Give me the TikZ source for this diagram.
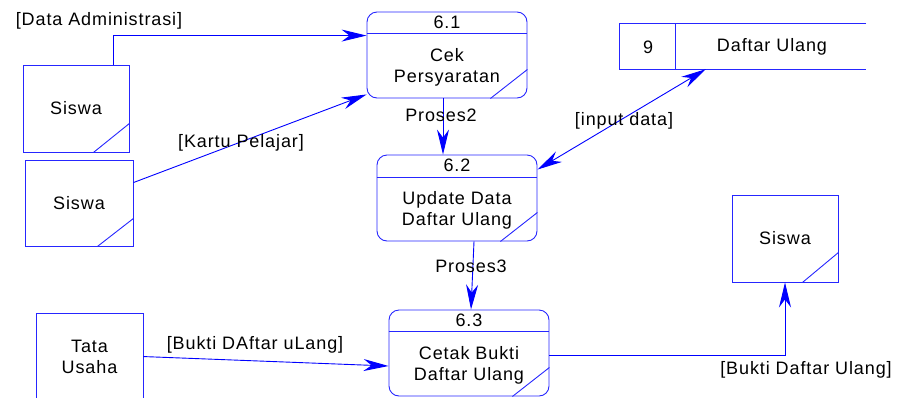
\documentclass[tikz,border=0pt]{standalone}
\usepackage{fontspec}
\setmainfont[LetterSpace=5]{Liberation Sans}
\usetikzlibrary{arrows.meta,calc}
\begin{document}
\begin{tikzpicture}[x=1pt,y=-1pt,
 ln/.style={draw=blue!85!white, line width=0.9pt},
 flow/.style={blue, line width=0.9pt, -{Stealth[length=25pt,width=12pt,inset=8pt]}},
 bflow/.style={blue, line width=0.9pt, {Stealth[length=25pt,width=12pt,inset=8pt]}-{Stealth[length=25pt,width=12pt,inset=8pt]}},
 proc/.style={draw=blue!85!white, line width=0.9pt, rounded corners=10pt, minimum width=160pt, minimum height=86pt, inner sep=0pt},
 ext/.style={draw=blue!85!white, line width=0.9pt, minimum width=106pt, minimum height=87pt, inner sep=0pt, font=\fontsize{18}{21}\selectfont, align=center},
 txt/.style={font=\fontsize{18}{21}\selectfont, align=center, inner sep=0pt},
]
\useasboundingbox (0,0) rectangle (899,397);

% external entities
\node[ext] (s1) at (76,108.5) {Siswa};
\draw[ln] ($(s1.south east)+(-36,0)$) -- ($(s1.south east)+(0,-29)$);
\node[ext, minimum width=108pt, minimum height=86pt] (s2) at (79,203) {Siswa};
\draw[ln] ($(s2.south east)+(-36,0)$) -- ($(s2.south east)+(0,-28)$);
\node[ext] (s3) at (785,238.5) {Siswa};
\draw[ln] ($(s3.south east)+(-36,0)$) -- ($(s3.south east)+(0,-30)$);
\node[ext, minimum width=107pt, minimum height=100pt] (tu) at (89.5,363) {};
\node[txt] (tut) at (89.5,357) {Tata\\Usaha};

% processes
\node[proc] (p1) at (447,55) {};
\draw[ln] ($(p1.north west)+(0,22)$) -- ($(p1.north east)+(0,22)$);
\draw[ln] ($(p1.south east)+(-37,0)$) -- ($(p1.south east)+(0,-29)$);
\node[txt] (p1n) at ($(p1.north)+(0,11)$) {6.1};
\node[txt] (p1t) at ($(p1.north)+(0,56)$) {Cek\\Persyaratan};

\node[proc] (p2) at (457,198) {};
\draw[ln] ($(p2.north west)+(0,23)$) -- ($(p2.north east)+(0,23)$);
\draw[ln] ($(p2.south east)+(-37,0)$) -- ($(p2.south east)+(0,-29)$);
\node[txt] (p2n) at ($(p2.north)+(0,11)$) {6.2};
\node[txt] (p2t) at ($(p2.north)+(0,56)$) {Update Data\\Daftar Ulang};

\node[proc] (p3) at (469,353) {};
\draw[ln] ($(p3.north west)+(0,22)$) -- ($(p3.north east)+(0,22)$);
\draw[ln] ($(p3.south east)+(-37,0)$) -- ($(p3.south east)+(0,-29)$);
\node[txt] (p3n) at ($(p3.north)+(0,11)$) {6.3};
\node[txt] (p3t) at ($(p3.north)+(0,56)$) {Cetak Bukti\\Daftar Ulang};

% data store
\node[minimum width=246pt, minimum height=45pt, inner sep=0pt] (ds) at (743,46.5) {};
\draw[ln] (ds.north east) -- (ds.north west) -- (ds.south west) -- (ds.south east);
\draw[ln] ($(ds.north west)+(56,0)$) -- ($(ds.south west)+(56,0)$);
\node[txt] (dsn) at (648,47) {9};
\node[txt] (dst) at (772,47) {Daftar Ulang};

% flows
\draw[flow] ($(s1.north)+(37,0)$) |- ($(p1.north west)+(0,24)$);
\draw[flow] ($(s2.north east)+(0,23)$) -- ($(p1.south west)+(0,-4)$);
\draw[flow] ($(p1.south)+(-4,0)$) -- ($(p2.north)+(-14,0)$);
\draw[flow] ($(p2.south)+(17,0)$) -- ($(p3.north)+(2,0)$);
\draw[bflow] ($(ds.south west)+(86,0)$) -- ($(p2.north east)+(0,15)$);
\draw[flow] ($(tu.north east)+(0,44)$) -- ($(p3.west)+(0,13)$);
\draw[flow] ($(p3.east)+(0,2)$) -| (s3.south);

% labels
\node[txt] (l1) at (99,21) {[Data Administrasi]};
\node[txt] (l2) at (241,143) {[Kartu Pelajar]};
\node[txt] (l3) at (441,115) {Proses2};
\node[txt] (l4) at (471,266) {Proses3};
\node[txt] (l5) at (624,121) {[input data]};
\node[txt] (l6) at (255,345) {[Bukti DAftar uLang]};
\node[txt] (l7) at (806,370) {[Bukti Daftar Ulang]};
\end{tikzpicture}
\end{document}
